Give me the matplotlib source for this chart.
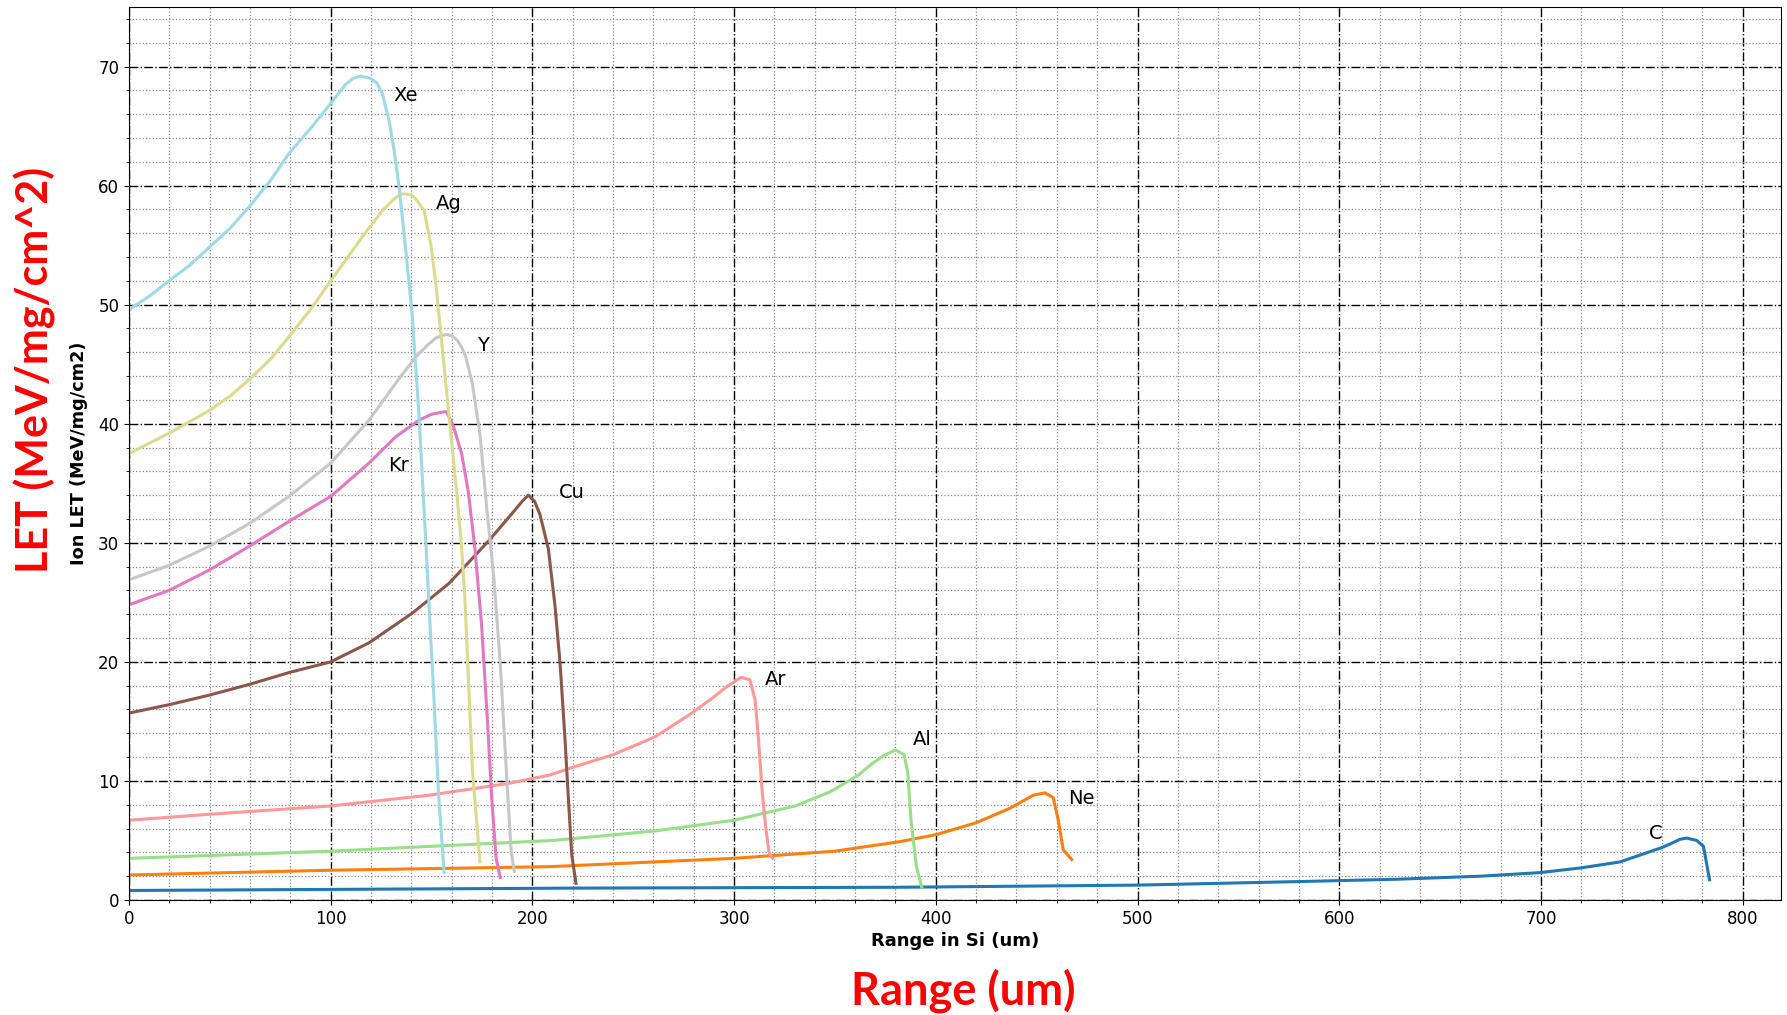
import matplotlib
matplotlib.use("Agg")
import matplotlib.pyplot as plt
from matplotlib.ticker import MultipleLocator

# LET vs range curves
ions = ["Xe", "Ag", "Y", "Kr", "Cu", "Ar", "Al", "Ne", "C"]

Xe_x = [0, 10, 19.8, 30, 39.7, 50, 59.5, 70, 79.3, 90, 100, 107.4, 111, 114.9,
        119.8, 123, 125.6, 128.9, 131.4, 133.9, 137.2, 140.5, 143.8, 147.0,
        148.6, 151.2, 153.5, 156.2]
Xe_y = [49.6, 50.7, 52.0, 53.3, 54.8, 56.4, 58.2, 60.4, 62.7, 64.8, 66.9, 68.5,
        69.0, 69.2, 69.0, 68.6, 67.7, 65.5, 63.0, 59.9, 54.6, 49.0, 40.6, 30.5,
        25.2, 16.8, 8.8, 2.3]

Ag_x = [0, 19.8, 39.7, 50, 59.5, 70, 79.3, 90, 100, 115.7, 125.6, 132.2, 135,
        137.2, 140, 142.1, 146.3, 149.6, 152.1, 155.4, 158.7, 162.0, 164.5,
        166.4, 168.0, 170.3, 174.0]
Ag_y = [37.5, 39.2, 41.1, 42.3, 43.7, 45.4, 47.3, 49.6, 52.0, 55.7, 57.9, 59.0,
        59.3, 59.3, 59.2, 58.9, 57.9, 55.1, 51.8, 46.2, 40.6, 35.0, 30.5, 25.8,
        19.6, 10.8, 3.2]

Y_x = [0, 19.8, 39.7, 59.5, 79.3, 100, 119, 132.2, 142.1, 148, 152.1, 155,
       157.4, 160, 162.8, 165, 167, 170.2, 174.0, 177.3, 180.9, 184.0, 187.3,
       189.5, 191.0]
Y_y = [26.9, 28.1, 29.7, 31.6, 33.9, 36.7, 40.3, 43.4, 45.6, 46.6, 47.2, 47.4,
       47.5, 47.4, 47.0, 46.4, 45.6, 43.4, 39.1, 33.0, 27.0, 20.0, 10.2, 4.0,
       2.4]

Kr_x = [0, 19.8, 39.7, 59.5, 79.3, 100, 119, 132.2, 143.8, 150, 156.2, 157.5,
        160.8, 164.9, 168.2, 171.5, 174.8, 177.7, 179.8, 182.0, 184.0]
Kr_y = [24.8, 26.0, 27.7, 29.7, 31.8, 33.9, 36.7, 38.9, 40.3, 40.8, 41.0, 41.0,
        39.8, 37.5, 34.3, 29.5, 23.1, 15.1, 8.6, 3.5, 1.9]

Cu_x = [0, 19.8, 39.7, 59.5, 79.3, 100, 119, 140.5, 158.7, 178.5, 190.1, 195,
        198.0, 201, 203.7, 207.9, 211.2, 213.7, 216.2, 217.8, 219.5, 221.6]
Cu_y = [15.7, 16.4, 17.2, 18.1, 19.1, 20.0, 21.6, 24.1, 26.6, 30.2, 32.5, 33.5,
        34.0, 33.5, 32.4, 29.5, 24.7, 19.9, 13.4, 8.6, 3.8, 1.4]

Ar_x = [0, 39.7, 100, 148.8, 188.4, 208.7, 219.1, 240.0, 260.8, 278.2, 289.5,
        297, 303.4, 307.8, 310.4, 312.1, 313.8, 315.6, 317.3, 319.1]
Ar_y = [6.7, 7.2, 7.9, 8.8, 9.8, 10.5, 11.1, 12.2, 13.7, 15.6, 17.0,
        18.0, 18.7, 18.5, 16.8, 13.5, 9.3, 6.2, 4.0, 3.5]

Al_x = [0, 100, 210, 260.8, 300, 330.4, 347.8, 361.7, 368, 373.9, 380.0, 384.3,
        386.1, 387.8, 390.4, 393.0]
Al_y = [3.5, 4.1, 5.0, 5.8, 6.7, 7.9, 9.1, 10.5, 11.4, 12.1, 12.6, 12.2,
        10.7, 6.5, 2.8, 1.1]

Ne_x = [0, 100, 208.7, 300, 350, 382.2, 400.4, 420.2, 436.7, 448.3, 454.1,
        458.2, 460.7, 463.2, 467.4]
Ne_y = [2.1, 2.5, 2.8, 3.5, 4.1, 4.9, 5.5, 6.5, 7.7, 8.8, 9.0,
        8.6, 6.7, 4.2, 3.4]

C_x = [0, 223, 382, 500, 580.6, 630, 670, 699.6, 720, 739.3, 759.9, 764, 769,
       772.3, 777.3, 780.6, 783.6]
C_y = [0.8, 1.0, 1.07, 1.25, 1.55, 1.75, 2.0, 2.3, 2.7, 3.2, 4.4, 4.7, 5.1,
       5.2, 5.0, 4.5, 1.7]

# where each name is written
label_x = [131, 152, 172.7, 128.6, 213.3, 315.2, 388.7, 465.7, 753.3]
label_y = [67.6, 58.5, 46.6, 36.5, 34.2, 18.5, 13.5, 8.5, 5.6]

colors = ["#9edae5", "#dbdb8d", "#c7c7c7", "#e377c2", "#8c564b",
          "#ff9896", "#98df8a", "#ff7f0e", "#1f77b4"]

series = [(Xe_x, Xe_y), (Ag_x, Ag_y), (Y_x, Y_y), (Kr_x, Kr_y), (Cu_x, Cu_y),
          (Ar_x, Ar_y), (Al_x, Al_y), (Ne_x, Ne_y), (C_x, C_y)]

fig = plt.figure(figsize=(17.87, 10.15), dpi=100, facecolor="white")
ax = fig.add_axes([0.0722, 0.1133, 0.9244, 0.8798])

# draw the C curve first so the others lie on top, like the reference
for i in reversed(range(len(ions))):
    xs, ys = series[i]
    ax.plot(xs, ys, color=colors[i], linewidth=2.2)
for name, lx, ly in zip(ions, label_x, label_y):
    ax.text(lx, ly, name, fontsize=14, ha="left", va="center", color="black")

ax.set_xlim(0, 819)
ax.set_ylim(0, 75)
ax.xaxis.set_major_locator(MultipleLocator(100))
ax.xaxis.set_minor_locator(MultipleLocator(20))
ax.yaxis.set_major_locator(MultipleLocator(10))
ax.yaxis.set_minor_locator(MultipleLocator(2))
ax.tick_params(labelsize=12)

ax.grid(which="major", linestyle="-.", color="black", linewidth=1.0)
ax.grid(which="minor", linestyle=":", color="#888888", linewidth=0.9)
ax.set_axisbelow(True)

ax.set_xlabel("Range in Si (um)", fontsize=13, fontweight="bold")
ax.set_ylabel("Ion LET (MeV/mg/cm2)", fontsize=12.7, fontweight="bold")
ax.xaxis.set_label_coords(0.5, -0.036)
ax.yaxis.set_label_coords(-0.025, 0.5)

# big red overlay titles
fig.text(35 / 1787, 1 - 370 / 1015, "LET (MeV/mg/cm^2)", rotation=90,
         ha="center", va="center", color="red", fontsize=31,
         fontweight="bold", family="Lato")
fig.text(963 / 1787, 1 - 991 / 1015, "Range (um)", ha="center", va="center",
         color="red", fontsize=32.5, fontweight="bold", family="Lato")

fig.savefig("out.png", dpi=100, facecolor="white")
